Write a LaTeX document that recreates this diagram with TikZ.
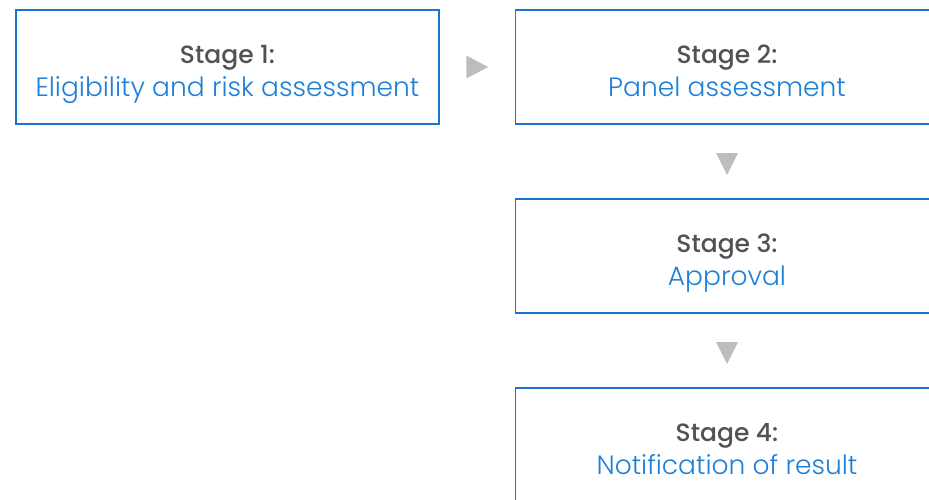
\documentclass[tikz,border=0pt]{standalone}
\usepackage{fontspec}
\setmainfont{Poppins}
\newfontfamily\lightf{Poppins Light}
\newfontfamily\medf{Poppins Medium}
\usetikzlibrary{calc}
\definecolor{vicblue}{HTML}{1F80D8}
\definecolor{vicborder}{HTML}{1A74CF}
\definecolor{stagegray}{HTML}{505255}
\definecolor{arrowgray}{HTML}{BDBDBD}
\tikzset{
  stagebox/.style={draw=vicborder, line width=1.2pt, fill=white,
    minimum width=423pt, minimum height=114pt, inner sep=0pt},
  stagelbl/.style={anchor=base, inner sep=0pt, text=stagegray,
    font=\medf\fontsize{25}{30}\selectfont},
  desclbl/.style={anchor=base, inner sep=0pt, text=vicblue,
    font=\lightf\fontsize{26.5}{30}\selectfont},
  rtri/.style={fill=arrowgray, draw=none},
}
\begin{document}
\begin{tikzpicture}[x=1pt,y=-1pt]
  \useasboundingbox (0,0) rectangle (929,499);
  \clip (0,0) rectangle (929,499);
  \fill[white] (0,0) rectangle (929,499);
  \node[stagebox] (s1) at (227.5,67) {};
  \node[stagebox] (s2) at (727,67) {};
  \node[stagebox] (s3) at (727,256) {};
  \node[stagebox] (s4) at (727,445) {};
  \node[stagelbl] (s1a) at ($(s1.north)+(0,54.5)$) {Stage 1:};
  \node[desclbl]  (s1b) at ($(s1.north)+(0,87)$) {Eligibility and risk assessment};
  \node[stagelbl] (s2a) at ($(s2.north)+(0,54.5)$) {Stage 2:};
  \node[desclbl]  (s2b) at ($(s2.north)+(0,87)$) {Panel assessment};
  \node[stagelbl] (s3a) at ($(s3.north)+(0,54.5)$) {Stage 3:};
  \node[desclbl]  (s3b) at ($(s3.north)+(0,87)$) {Approval};
  \node[stagelbl] (s4a) at ($(s4.north)+(0,54.5)$) {Stage 4:};
  \node[desclbl]  (s4b) at ($(s4.north)+(0,87)$) {Notification of result};
  % arrow heads (connectors)
  \coordinate (a12) at ($(s1.east)!0.5!(s2.west)$);
  \coordinate (a23) at ($(s2.south)!0.5!(s3.north)+(0,2.5)$);
  \coordinate (a34) at ($(s3.south)!0.5!(s4.north)+(0,2.5)$);
  \fill[rtri] ($(a12)+(-11,-11.5)$) -- ($(a12)+(11,0)$) -- ($(a12)+(-11,11.5)$) -- cycle;
  \fill[rtri] ($(a23)+(-11,-11)$) -- ($(a23)+(11,-11)$) -- ($(a23)+(0,11)$) -- cycle;
  \fill[rtri] ($(a34)+(-11,-11)$) -- ($(a34)+(11,-11)$) -- ($(a34)+(0,11)$) -- cycle;
\end{tikzpicture}
\end{document}
